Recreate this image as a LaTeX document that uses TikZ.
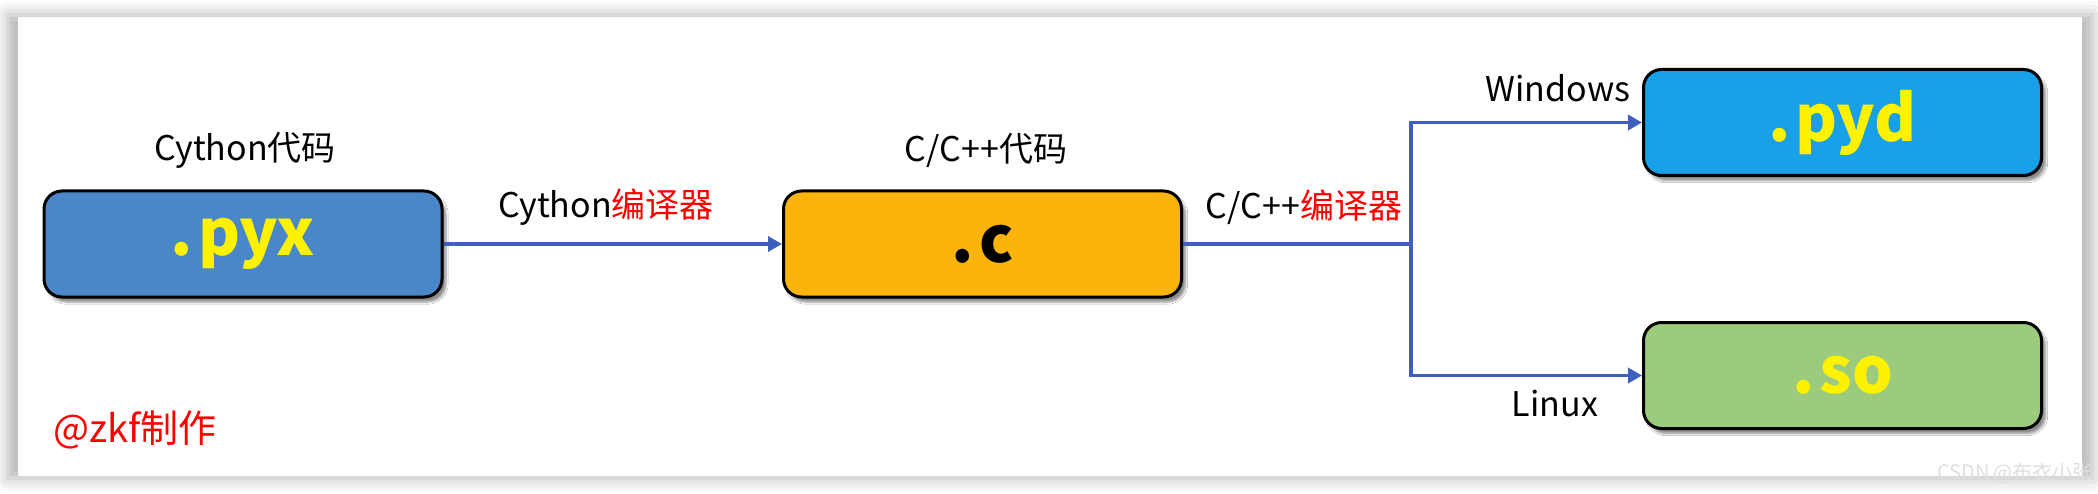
\documentclass[tikz,border=0pt]{standalone}
\usepackage{fontspec}
\setmainfont{Noto Sans CJK SC}
\usepackage{tikz}
\usetikzlibrary{arrows.meta,positioning,shadows.blur}

\definecolor{pyxblue}{HTML}{4A87C8}
\definecolor{corange}{HTML}{FBB40B}
\definecolor{pydblue}{HTML}{18A0E9}
\definecolor{sogreen}{HTML}{9CCB7E}
\definecolor{linkblue}{HTML}{3F5FBF}

\newcommand{\ext}[1]{.\kern5pt#1}

\tikzset{
  filebox/.style={draw=black,line width=3pt,rounded corners=18pt,
    minimum width=398pt,minimum height=106pt,inner sep=0pt,
    font=\fontsize{64}{70}\selectfont\bfseries,
    blur shadow={shadow xshift=4pt,shadow yshift=-5pt,shadow blur steps=6,shadow opacity=45}},
  lbl/.style={font=\fontsize{34}{40}\selectfont,inner sep=0pt},
  link/.style={draw=linkblue,line width=3.5pt,-{Triangle[length=14pt,width=15pt]}}
}

\begin{document}
\begin{tikzpicture}[x=1pt,y=-1pt]
\useasboundingbox (0,0) rectangle (2098,494);

% panel
\fill[white,blur shadow={shadow xshift=0pt,shadow yshift=0pt,shadow scale=1.01,shadow blur radius=14pt,shadow opacity=30}]
  (18,17) rectangle (2082,476);

% files
\node[filebox,fill=pyxblue,text=yellow] (pyx) at (243,244)    {\raisebox{-3pt}{\ext{pyx}}};
\node[filebox,fill=corange,text=black]  (c)   at (982.5,244)  {\raisebox{-3pt}{\ext{c}}};
\node[filebox,fill=pydblue,text=yellow] (pyd) at (1842.5,122.5) {\raisebox{-3pt}{\ext{pyd}}};
\node[filebox,fill=sogreen,text=yellow] (so)  at (1842.5,375.5) {\raisebox{-3pt}{\ext{so}}};

% labels
\node[lbl] (pyxlbl) at (245,150) {Cython代码};
\node[lbl] (clbl)   at (986,150) {C/C++代码};
\node[lbl] (cyc)    at (606,207) {Cython\textcolor{red}{编译器}};
\node[lbl] (ccc)    at (1304,207) {C/C++\textcolor{red}{编译器}};
\node[lbl] (win)    at (1558,88) {Windows};
\node[lbl] (linux)  at (1555,404) {Linux};
\node[lbl,text=red,font=\fontsize{38}{42}\selectfont] (mark) at (135,430) {@zkf制作};
\node[lbl,text=gray!25,font=\fontsize{20}{24}\selectfont] (csdn) at (2015,473) {CSDN @布衣小张};

% connectors
\coordinate (split) at (1411,244);
\path[link] (pyx) -- (c);
\draw[linkblue,line width=3.5pt] (c) -- (split);
\path[link] (split) |- (pyd.west);
\path[link] (split) |- (so.west);

\end{tikzpicture}
\end{document}
